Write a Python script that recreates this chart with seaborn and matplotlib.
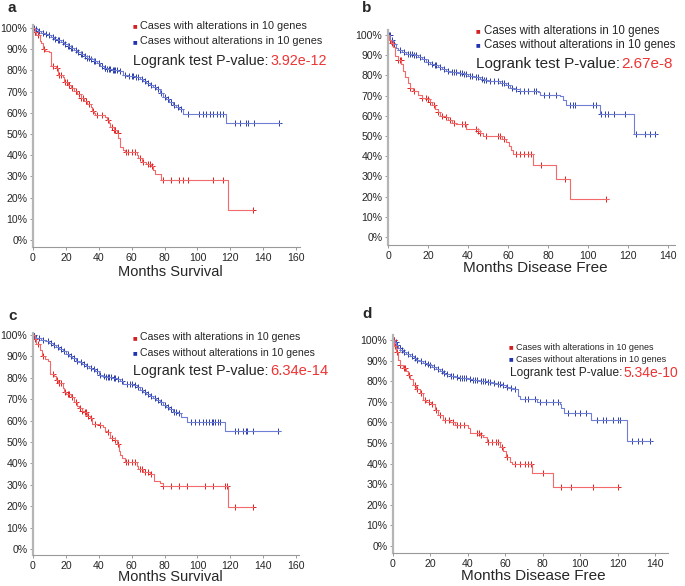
import numpy as np
import pandas as pd
import seaborn as sns
import matplotlib
matplotlib.use("Agg")
from matplotlib import pyplot as plt

# ---- data (time in months, survival in %) ----
# panel a - overall survival
a_red_t = [0, 1, 2, 4, 5, 6, 7, 10, 11, 14, 15, 18, 19, 21, 23, 25, 27, 29, 31, 33, 35, 36, 37, 38, 44,
           45, 46, 47, 49, 51, 52, 53, 55, 56, 63, 64, 66, 69, 72, 73, 74, 78, 118.5, 134]
a_red_s = [100, 98, 96.5, 94, 93, 90, 89, 88.5, 82, 81, 78, 77, 74.5, 73, 71.5, 70.5, 69, 67, 65.5, 64, 62.5,
           61, 60, 59, 58, 56.5, 55, 53.5, 52, 50.5, 48, 44, 42.5, 41.5, 40, 38.5, 37, 36, 35, 33, 31, 28.5, 14, 14]
a_red_cens = [1.5, 3, 6.5, 12, 14.5, 16, 17, 19.5, 20.5, 22, 24, 26, 28, 29.5, 30.5, 32, 34, 36.5, 39, 42,
              45.5, 48, 49.5, 50, 51.5, 56.5, 58, 60, 62, 65, 67, 70, 71, 72.5, 79, 84, 89, 91, 94.4,
              109.6, 115.3, 134]
a_blue_t = [0, 1, 3, 5, 7, 9, 11, 13, 15, 17, 19, 21, 23, 25, 27, 29, 31, 33, 35, 37, 39, 41, 43, 45, 48,
            52, 55, 58, 62, 65, 67, 69, 71, 73, 75, 77, 79, 81, 83, 85, 87, 89, 91, 117.5, 150]
a_blue_s = [100, 99.5, 98.5, 97.8, 97, 96.5, 95.8, 95, 94.2, 93.3, 92.3, 91.3, 90.5, 89.6, 88.7, 87.8, 86.8,
            86, 85.2, 84.4, 83.3, 82, 81, 80.5, 80.2, 79.6, 78, 77.2, 76.8, 75.8, 75, 74.2, 73.3, 72.3, 71,
            69.5, 67.5, 66.3, 65, 63.5, 62.5, 62, 59.5, 55, 55]
a_blue_cens = [0.5, 2, 3.5, 6, 8, 10, 12, 13.5, 15, 16, 18, 19.5, 21, 22, 23, 24, 26, 27.5, 29, 30, 31.5,
               33, 34, 35.5, 37, 38, 40, 42, 43.5, 44, 45, 46, 47, 48.5, 49, 50, 51, 53, 56, 58.5, 60, 61,
               62.5, 64, 66, 68, 70, 72, 74, 76, 78, 80, 82, 84, 86, 88, 90, 94.4, 101, 103.5, 105.5,
               107.5, 109.6, 111.7, 113.7, 115.7, 122.8, 126, 129.6, 131, 134.4, 149.8]

# panel b - disease free
b_red_t = [0, 0.5, 1.5, 2.5, 3.3, 5, 6.7, 7.5, 8.5, 10, 11, 12.5, 15, 17, 19.5, 21, 22, 23.5, 25, 26, 29,
           30, 32, 34, 39, 45, 46, 47.5, 57, 59, 60.5, 61.5, 62.5, 72.5, 84, 91, 110]
b_red_s = [100, 97.5, 96, 94, 89.5, 87.5, 85.5, 82, 79, 76, 74, 72.5, 70.5, 69, 68.5, 67, 65.5, 63.5, 62,
           60, 59.5, 58, 56.5, 56, 53.5, 52.5, 51.5, 50, 48.5, 47, 45, 43, 41, 35.5, 28.5, 19, 19]
b_red_cens = [1, 2, 5, 6, 6.5, 11, 13, 17, 19, 20, 21, 23, 25, 27, 29, 31, 33, 37, 38.5, 44, 45, 46, 49,
              55, 56, 58, 64, 66, 68, 70, 71.5, 76.7, 88.3, 109]
b_blue_t = [0, 1.2, 2.5, 4, 5, 7, 9, 13, 15, 17, 19, 21, 23, 25, 27, 29, 31, 35, 38, 40, 43, 46, 48, 50,
            56, 59, 61, 63, 66, 75, 76, 86, 87.5, 89, 106, 123, 134]
b_blue_s = [100, 97.5, 95.5, 93.5, 92.5, 91.5, 90.8, 90.2, 89, 88, 86.8, 85.8, 85, 84, 83.2, 82.2, 81.5,
            81, 80.5, 79.5, 79, 78, 77.5, 77, 76, 75, 74, 73.5, 72.5, 72, 70.5, 70, 68, 65.5, 61, 51, 51]
b_blue_cens = [0.5, 1, 2, 3, 6, 8, 10, 11, 12, 13, 14, 16, 18, 20, 22, 23.5, 24, 26, 28, 30, 32, 33, 34,
               36, 37, 38, 39, 41, 42, 44, 45, 47, 48, 49, 51, 53, 55, 57, 58, 60, 62, 64, 66, 68, 70, 73,
               74, 77.8, 80.5, 83.8, 90.8, 92.5, 93.3, 102.5, 104, 106.7, 108.3, 110, 112.8, 118.3, 124,
               128.3, 130.8, 133.3]

# panel c - overall survival
c_red_t = [0, 1, 2, 4, 5.7, 7, 9, 10.5, 13, 14, 15, 18, 19, 20, 23, 25, 27, 28, 30, 31, 33, 34.5, 36,
           40.6, 42.6, 44, 45, 46.7, 49.7, 51.2, 52.5, 53.2, 54, 55.8, 63, 64, 67, 71, 73.5, 77, 78.8,
           118.5, 134]
c_red_s = [100, 98, 96, 93, 90, 89, 88, 82, 81, 79, 77.5, 75, 73.5, 72.5, 71, 68.5, 67, 66, 64.5, 64, 62,
           61, 58.5, 58, 57, 55, 54.5, 52, 51, 49, 46, 44, 42.5, 40.5, 39, 37.5, 36, 35, 32, 31, 29.5,
           19.5, 19.5]
c_red_cens = [1.5, 3, 6, 12, 14.5, 16, 17, 19.5, 21, 22, 24, 26, 28.5, 30, 31.5, 32, 33.5, 35, 38, 41,
              45.5, 48, 50, 52, 56.5, 58, 60, 62, 65, 66, 68, 70, 72, 79.2, 84, 89, 93.4, 104.6, 109.6,
              116.8, 117.8, 122.8, 134]
c_blue_t = [0, 1, 2, 5, 8, 10, 12, 14, 16, 18, 20, 22, 24, 26, 28, 30, 32, 34, 36, 38, 40, 42, 44, 48,
            51, 53, 55, 61, 63, 65, 67, 69, 71, 73, 75, 77, 79, 81, 83, 85, 88, 90, 93.4, 117, 150]
c_blue_s = [100, 99, 98.5, 97.7, 97, 96.2, 95.5, 94.5, 93.5, 92.3, 91, 90.2, 89.2, 88, 87.2, 86.3, 85.6,
            84.8, 84, 83, 81.5, 80.8, 80.5, 80, 79.5, 78.5, 77, 76.5, 75.5, 74.5, 73.5, 72.5, 71.5, 70.5,
            69.5, 68.5, 67.5, 66.5, 65.3, 64, 63.5, 61.5, 59.5, 55, 55]
c_blue_cens = [0.5, 2, 3.5, 6, 9, 11, 13, 15, 17, 19, 21, 23, 25, 27, 29, 31, 33, 35, 37, 39, 41, 43,
               44.5, 45.5, 46.5, 47.5, 49, 50, 52, 54, 57, 59, 60, 62, 64, 66, 68, 70, 72, 74, 76, 78, 80,
               82, 84, 86, 87, 89, 96.4, 98.5, 101, 103.5, 105.5, 107, 108.6, 109.6, 111, 112.7, 114,
               122.8, 124.8, 127.5, 129.6, 130.4, 134, 149]

# panel d - disease free
d_red_t = [0, 0.5, 1.8, 2.7, 3.6, 5.3, 7, 8, 9, 10.7, 12.5, 14.3, 16, 17.8, 20.5, 22.3, 24, 26.8, 30.3,
           33, 40, 41, 46.4, 48, 50, 57, 59, 60.6, 62.4, 63.8, 74.5, 85.6, 120]
d_red_s = [100, 97, 94, 90.5, 88, 86.5, 85, 83, 81, 78, 76, 74.5, 71, 70, 69, 66, 63.5, 61, 60, 58.5,
           57.5, 55, 54, 53, 50.5, 48, 46, 43, 41, 40, 35.5, 28.5, 28.5]
d_red_cens = [0.3, 1, 2, 4, 6, 6.5, 8.5, 12, 13, 15, 17, 19, 21, 23, 25, 28, 30, 32, 34, 36, 38, 45, 46,
              47, 51, 53, 55, 56, 58, 61, 65, 67.8, 70.4, 72.2, 74, 80.3, 90, 95.4, 107, 120]
d_blue_t = [0, 0.9, 1.8, 2.7, 4, 5.3, 7, 9, 11, 12.5, 14, 16, 18, 19.6, 21, 23.2, 25, 26.8, 28, 30.3, 33,
            35.7, 40, 42.8, 46, 50, 53, 55.3, 58, 60.6, 62, 64.2, 66.9, 67.8, 76.7, 89, 90, 91.5, 106,
            124.8, 138]
d_blue_s = [100, 99, 97.5, 96, 95, 94, 93, 92, 91.3, 90.5, 89.8, 89, 88.5, 88, 87, 86, 85, 84, 83.3, 82.5,
            82, 81.5, 81, 80.5, 80, 79.5, 79, 78.5, 78, 77, 76.5, 76, 73, 71.5, 70, 69, 67, 64.5, 61, 51, 51]
d_blue_cens = [0.5, 1.5, 2, 3.5, 5, 6, 8, 10, 11.5, 13, 15, 17, 18.5, 20, 22, 24, 26, 27.5, 29, 31, 32,
               34, 36, 37, 38, 39, 41, 43, 44, 45, 47, 48, 49, 51, 52, 54, 56, 57, 59, 61, 63, 65, 70.4,
               72.2, 75.8, 78.5, 82, 85.6, 88.3, 93.6, 97.2, 99.9, 103.4, 108.8, 112.4, 114.1, 117.7,
               120.4, 121.3, 127.5, 131.1, 132.9, 137.3]

panel_labels = ["a", "b", "c", "d"]
x_labels = ["Months Survival", "Months Disease Free", "Months Survival", "Months Disease Free"]
p_values = ["3.92e-12", "2.67e-8", "6.34e-14", "5.34e-10"]
legend_labels = ["Cases with alterations in 10 genes", "Cases without alterations in 10 genes"]
y_ticks = list(range(0, 101, 10))
y_tick_labels = [f"{v}%" for v in y_ticks]

curves = {
    "a": (a_red_t, a_red_s, a_red_cens, a_blue_t, a_blue_s, a_blue_cens),
    "b": (b_red_t, b_red_s, b_red_cens, b_blue_t, b_blue_s, b_blue_cens),
    "c": (c_red_t, c_red_s, c_red_cens, c_blue_t, c_blue_s, c_blue_cens),
    "d": (d_red_t, d_red_s, d_red_cens, d_blue_t, d_blue_s, d_blue_cens),
}

sns.set_style("ticks")
plt.rcParams["font.family"] = ["Liberation Sans", "DejaVu Sans"]

W, H = 685, 586
fig = plt.figure(figsize=(W / 100, H / 100), dpi=100)

RED_LINE, RED_MARK = "#f26a6a", "#e01e1e"
BLUE_LINE, BLUE_MARK = "#6f7fd6", "#2a3ca6"

# pixel layout of each panel: x0, px per month, xmax, y of 0%, px per %, ylow, yhigh
layout = {
    "a": dict(x0=33, sx=1.644, xmax=162.4, y0=240, sy=2.12, ylo=-3.3, yhi=101.5, xt=range(0, 161, 20)),
    "b": dict(x0=388, sx=2.0, xmax=143.5, y0=237, sy=2.02, ylo=-4, yhi=102.5, xt=range(0, 141, 20)),
    "c": dict(x0=33, sx=1.644, xmax=162, y0=549, sy=2.14, ylo=-2.8, yhi=101, xt=range(0, 161, 20)),
    "d": dict(x0=393, sx=1.871, xmax=147, y0=546, sy=2.06, ylo=-3.4, yhi=102.4, xt=range(0, 141, 20)),
}

# text positions (pixels)
text_pos = {
    "a": dict(lab=(8, 8), leg=(140, 26, 41.5), mk=135, lr=(133, 61), lsize=7.8, lrsize=10.3, pvsize=10.3,
              xl=(170, 272), xlsize=10.5),
    "b": dict(lab=(362, 8), leg=(484, 31, 45), mk=478, lr=(476, 64), lsize=8.3, lrsize=11, pvsize=11,
              xl=(535, 268), xlsize=11),
    "c": dict(lab=(8, 316), leg=(140, 337.5, 353), mk=135, lr=(133, 371), lsize=7.6, lrsize=10.3,
              pvsize=10.6, xl=(170, 577), xlsize=10.5),
    "d": dict(lab=(362, 314), leg=(516, 347, 359), mk=511, lr=(510, 373), lsize=6.5, lrsize=8.6,
              pvsize=10, xl=(533, 576), xlsize=11),
}


def fx(x):
    return x / W


def fy(y):
    return 1 - y / H


def at_time(times, surv, c):
    i = np.searchsorted(times, c, side="right") - 1
    return np.asarray(surv)[i]


for key in panel_labels:
    L = layout[key]
    left = L["x0"]
    right = L["x0"] + L["xmax"] * L["sx"]
    bottom = L["y0"] - L["ylo"] * L["sy"]
    top = L["y0"] - L["yhi"] * L["sy"]
    ax = fig.add_axes([fx(left), fy(bottom), (right - left) / W, (bottom - top) / H])

    rt, rs, rc, bt, bs, bc = curves[key]
    for t, s, c, lc, mc in [(bt, bs, bc, BLUE_LINE, BLUE_MARK), (rt, rs, rc, RED_LINE, RED_MARK)]:
        df = pd.DataFrame({"t": t, "s": s})
        sns.lineplot(data=df, x="t", y="s", drawstyle="steps-post", color=lc, lw=0.8,
                     errorbar=None, ax=ax)
        cens = pd.DataFrame({"t": c, "s": at_time(t, s, c)})
        sns.scatterplot(data=cens, x="t", y="s", marker="+", color=mc, s=16, linewidth=0.7, ax=ax)

    ax.set_xlim(0, L["xmax"])
    ax.set_ylim(L["ylo"], L["yhi"])
    ax.set_xticks(list(L["xt"]))
    ax.set_yticks(y_ticks)
    ax.set_yticklabels(y_tick_labels)
    ax.set_xlabel("")
    ax.set_ylabel("")
    ax.tick_params(axis="both", labelsize=7.6, length=2.5, width=0.6, color="#888888", pad=1.5)
    for side in ["top", "right"]:
        ax.spines[side].set_visible(False)
    ax.spines["left"].set_color("#b5b5b5")
    ax.spines["left"].set_linewidth(1.6)
    ax.spines["bottom"].set_color("#999999")
    ax.spines["bottom"].set_linewidth(0.8)
    ax.patch.set_alpha(0)

    T = text_pos[key]
    fig.text(fx(T["lab"][0]), fy(T["lab"][1]), key, fontsize=11, fontweight="bold",
             ha="left", va="center")
    lx, ly1, ly2 = T["leg"]
    fig.text(fx(T["mk"]), fy(ly1), "■", fontsize=3.5, color="#d42020", ha="center", va="center",
             family="DejaVu Sans")
    fig.text(fx(T["mk"]), fy(ly2), "■", fontsize=3.5, color="#2233b0", ha="center", va="center",
             family="DejaVu Sans")
    fig.text(fx(lx), fy(ly1), legend_labels[0], fontsize=T["lsize"], ha="left", va="center")
    fig.text(fx(lx), fy(ly2), legend_labels[1], fontsize=T["lsize"], ha="left", va="center")
    lr = fig.text(fx(T["lr"][0]), fy(T["lr"][1]), "Logrank test P-value:", fontsize=T["lrsize"],
                  ha="left", va="center")
    fig.canvas.draw()
    bb = lr.get_window_extent()
    fig.text(bb.x1 / W + 1.5 / W, fy(T["lr"][1]), p_values[panel_labels.index(key)],
             fontsize=T["pvsize"], color="#ee3333", ha="left", va="center")
    fig.text(fx(T["xl"][0]), fy(T["xl"][1]), x_labels[panel_labels.index(key)], fontsize=T["xlsize"],
             ha="center", va="center")

fig.savefig("out.png", dpi=100)
